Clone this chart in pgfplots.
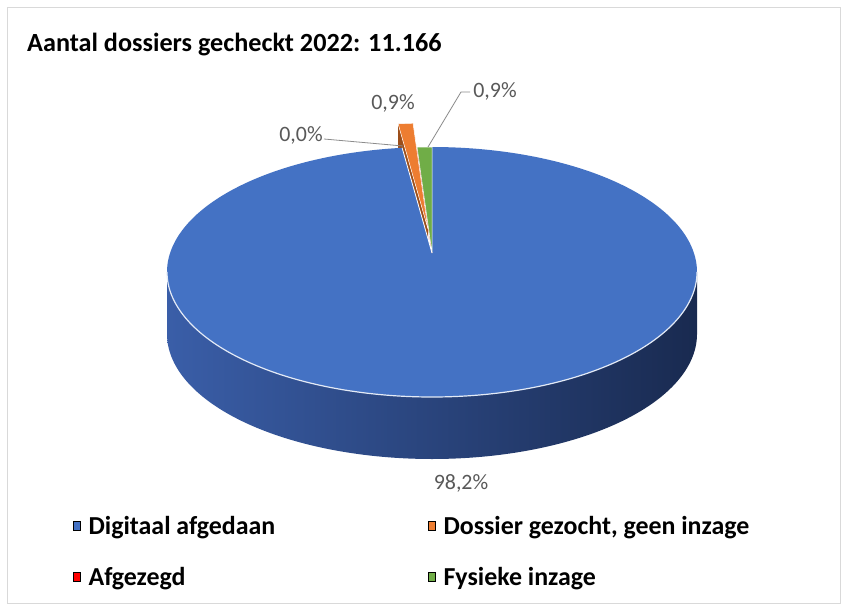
\documentclass[border=0pt]{standalone}
\usepackage{pgfplots}
\pgfplotsset{compat=1.18}
\usepackage{fontspec}
\setmainfont{Carlito}
\definecolor{cBlue}{HTML}{4472C4}
\definecolor{cOrange}{HTML}{ED7D31}
\definecolor{cOrangeD}{HTML}{9C4E1A}
\definecolor{cRed}{HTML}{FF0000}
\definecolor{cGreen}{HTML}{70AD47}
\definecolor{sideL}{HTML}{3A5EA8}
\definecolor{sideM}{HTML}{27417E}
\definecolor{sideR}{HTML}{192A50}
\definecolor{lbl}{HTML}{595959}
\definecolor{lead}{HTML}{8C8C8C}
% data (percent)
\def\vA{98.2}% Digitaal afgedaan
\def\vB{0.9}% Dossier gezocht, geen inzage
\def\vC{0.0}% Afgezegd
\def\vD{0.9}% Fysieke inzage
\pgfmathsetmacro\tot{\vA+\vB+\vC+\vD}
\pgfmathsetmacro\aA{\vA/\tot*360}
\pgfmathsetmacro\aB{\aA+\vB/\tot*360}
\pgfmathsetmacro\aC{\aB+\vC/\tot*360}
\pgfmathsetmacro\aD{\aC+\vD/\tot*360}
% boundary points
\pgfmathsetmacro\oX{428+265*sin(\aA)}
\pgfmathsetmacro\oY{248-125*cos(\aA)}
\pgfmathsetmacro\oYb{\oY+24}
\pgfmathsetmacro\eX{432+265*sin(\aA)}
\pgfmathsetmacro\eY{272-125*cos(\aA)}
\pgfmathsetmacro\rX{432+265*sin(\aB)}
\pgfmathsetmacro\rY{272-125*cos(\aB)}
\pgfplotsset{legend image code/.code={\fill[#1] (0bp,-4.5bp) rectangle (7bp,4.5bp); \path (13bp,0bp);}}
\begin{document}
\begin{tikzpicture}
\begin{axis}[
  scale only axis, width=847bp, height=608bp,
  xmin=0, xmax=847, ymin=0, ymax=608, y dir=reverse,
  hide axis, clip=false,
  legend columns=2,
  legend cell align=left,
  legend style={draw=none, fill=none, at={(70/847,0.093)}, anchor=west,
    font=\fontsize{26}{31}\selectfont\bfseries,
    /tikz/every even column/.append style={column sep=151bp},
    row sep=27bp},
]
\addlegendimage{fill=cBlue}\addlegendentry{Digitaal afgedaan}
\addlegendimage{fill=cOrange}\addlegendentry{Dossier gezocht, geen inzage}
\addlegendimage{fill=cRed}\addlegendentry{Afgezegd}
\addlegendimage{fill=cGreen}\addlegendentry{Fysieke inzage}

\fill[white] (axis cs:0,0) rectangle (axis cs:847,608);
\draw[black!15, line width=1bp] (axis cs:7,8) rectangle (axis cs:840,603);

% side of the pie
\addplot[draw=none, left color=sideL, middle color=sideM, right color=sideR,
  domain=90:450, samples=361, variable=\t]
  ({432+265*sin(270-abs(\t-270))},
   {272-125*cos(270-abs(\t-270))+62*min(1,max(0,\t-270))}) -- cycle;

% exploded orange slice (side + top)
\addplot[fill=cOrangeD, draw=none] coordinates
  {(\oX,\oY) (428,229) (428,253) (\oX,\oYb)} -- cycle;
\addplot[fill=cOrange, draw=white, line width=0.5bp, domain=\aA:\aB, samples=10, variable=\t]
  ({428+265*sin(\t)},{248-125*cos(\t)}) -- (axis cs:428,229) -- cycle;

% top face
\addplot[fill=cBlue, draw=none, domain=0:\aA, samples=361, variable=\t]
  ({432+265*sin(\t)},{272-125*cos(\t)}) -- (axis cs:432,253) -- cycle;
\addplot[cRed, line width=0.4bp] coordinates {(\rX,\rY) (432,253)};
\addplot[fill=cGreen, draw=white, line width=0.5bp, domain=\aC:\aD, samples=10, variable=\t]
  ({432+265*sin(\t)},{272-125*cos(\t)}) -- (axis cs:432,253) -- cycle;
\addplot[white, line width=0.8bp] coordinates {(\eX,\eY) (432,253)};
% rim highlight
\addplot[white!85!cBlue, line width=1.2bp, domain=90:270, samples=181, variable=\t]
  ({432+265*sin(\t)},{272-125*cos(\t)});

% labels
\draw[lead, line width=0.8bp] (axis cs:324,139) -- (axis cs:403,146);
\draw[lead, line width=0.8bp] (axis cs:470,92) -- (axis cs:461,92) -- (axis cs:428,147);
\node[lbl, font=\fontsize{22}{26}\selectfont] at (axis cs:461,483) {98,2\%};
\node[lbl, font=\fontsize{22}{26}\selectfont] at (axis cs:393,103) {0,9\%};
\node[lbl, font=\fontsize{22}{26}\selectfont] at (axis cs:495,91) {0,9\%};
\node[lbl, font=\fontsize{22}{26}\selectfont] at (axis cs:301,135) {0,0\%};

\node[anchor=west, font=\fontsize{26.3}{31}\selectfont\bfseries, inner sep=0pt]
  at (axis cs:27,45) {Aantal dossiers gecheckt 2022: 11.166};
\end{axis}
\end{tikzpicture}
\end{document}
